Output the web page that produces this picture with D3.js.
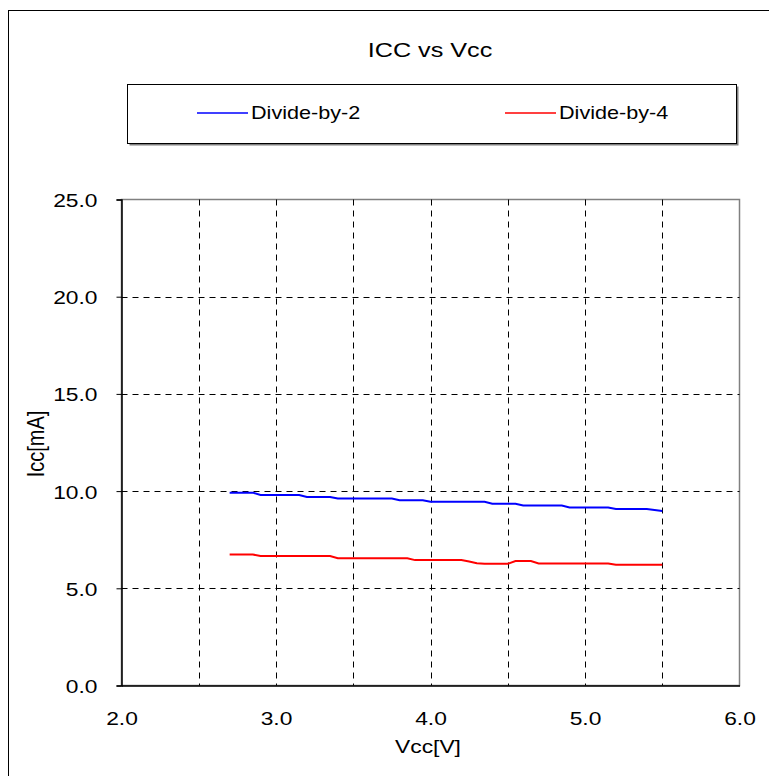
<!DOCTYPE html>
<html>
<head>
<meta charset="utf-8">
<script src="https://cdn.jsdelivr.net/npm/d3@7"></script>
<style>
  html, body { margin: 0; padding: 0; background: #fff; }
  svg { display: block; font-family: "Liberation Sans", Arial, sans-serif; }
</style>
</head>
<body>
<svg id="chart" width="769" height="776"></svg>
<script>
// ---- data ----
const vcc = [2.70, 2.75, 2.80, 2.85, 2.90, 2.95, 3.00, 3.05, 3.10, 3.15,
             3.20, 3.25, 3.30, 3.35, 3.40, 3.45, 3.50, 3.55, 3.60, 3.65,
             3.70, 3.75, 3.80, 3.85, 3.90, 3.95, 4.00, 4.05, 4.10, 4.15,
             4.20, 4.25, 4.30, 4.35, 4.40, 4.45, 4.50, 4.55, 4.60, 4.65,
             4.70, 4.75, 4.80, 4.85, 4.90, 4.95, 5.00, 5.05, 5.10, 5.15,
             5.20, 5.25, 5.30, 5.35, 5.40, 5.45, 5.50];
const divideBy2 = [9.92, 9.92, 9.92, 9.92, 9.80, 9.80, 9.80, 9.80, 9.80, 9.80,
                   9.70, 9.70, 9.70, 9.70, 9.62, 9.62, 9.62, 9.62, 9.62, 9.62,
                   9.62, 9.62, 9.53, 9.53, 9.53, 9.53, 9.45, 9.45, 9.45, 9.45,
                   9.45, 9.45, 9.45, 9.45, 9.35, 9.35, 9.35, 9.35, 9.26, 9.26,
                   9.26, 9.26, 9.26, 9.26, 9.16, 9.16, 9.16, 9.16, 9.16, 9.16,
                   9.08, 9.08, 9.08, 9.08, 9.08, 9.03, 8.98];
const divideBy4 = [6.74, 6.74, 6.74, 6.74, 6.66, 6.66, 6.66, 6.66, 6.66, 6.66,
                   6.66, 6.66, 6.66, 6.66, 6.55, 6.55, 6.55, 6.55, 6.55, 6.55,
                   6.55, 6.55, 6.55, 6.55, 6.45, 6.45, 6.45, 6.45, 6.45, 6.45,
                   6.45, 6.38, 6.29, 6.26, 6.26, 6.26, 6.26, 6.40, 6.40, 6.40,
                   6.28, 6.28, 6.28, 6.28, 6.28, 6.28, 6.28, 6.28, 6.28, 6.28,
                   6.21, 6.21, 6.21, 6.21, 6.21, 6.21, 6.21];
const seriesNames = ["Divide-by-2", "Divide-by-4"];
const seriesColors = ["#0000ff", "#ff0000"];
const xTicks = [2.0, 3.0, 4.0, 5.0, 6.0];
const xGrid = [2.5, 3.0, 3.5, 4.0, 4.5, 5.0, 5.5];
const yTicks = [0, 5, 10, 15, 20, 25];
const titleText = "ICC vs Vcc";
const xTitle = "Vcc[V]";
const yTitle = "Icc[mA]";

// ---- layout ----
const SX = 1.2; // horizontal stretch of the reference's lettering
const svg = d3.select("#chart");
const plot = { left: 121.5, right: 739.5, top: 199.5, bottom: 685.5 };

const x = d3.scaleLinear().domain([2, 6]).range([plot.left, plot.right]);
const y = d3.scaleLinear().domain([0, 25]).range([plot.bottom, plot.top]);

function stretchedText(g, px, py, size, anchor, txt) {
  return g.append("text")
    .attr("transform", `translate(${px},${py}) scale(${SX},1)`)
    .attr("text-anchor", anchor)
    .attr("font-size", size)
    .attr("fill", "#000")
    .text(txt);
}

// outer frame (only left & top visible in window)
svg.append("rect")
  .attr("x", 8.5).attr("y", 10.5)
  .attr("width", 800).attr("height", 800)
  .attr("fill", "#fff").attr("stroke", "#000").attr("stroke-width", 1);

// title
stretchedText(svg, 430, 57, 21, "middle", titleText);

// legend box with shadow
svg.append("rect")
  .attr("x", 129.5).attr("y", 86.5).attr("width", 609).attr("height", 59)
  .attr("fill", "#7f7f7f");
svg.append("rect")
  .attr("x", 127.5).attr("y", 84.5).attr("width", 609).attr("height", 59)
  .attr("fill", "#fff").attr("stroke", "#000").attr("stroke-width", 1);

const legendX = [197, 505];
seriesNames.forEach((name, i) => {
  svg.append("line")
    .attr("x1", legendX[i]).attr("x2", legendX[i] + 51)
    .attr("y1", 113).attr("y2", 113)
    .attr("stroke", seriesColors[i]).attr("stroke-width", 1.5);
  stretchedText(svg, legendX[i] + 54, 119, 18, "start", name);
});

// plot area border (top/right gray)
svg.append("rect")
  .attr("x", plot.left).attr("y", plot.top)
  .attr("width", plot.right - plot.left).attr("height", plot.bottom - plot.top)
  .attr("fill", "#fff").attr("stroke", "#808080").attr("stroke-width", 1.5);

// gridlines
const grid = svg.append("g").attr("stroke", "#000").attr("stroke-width", 1)
  .attr("stroke-dasharray", "6,5");
grid.selectAll("line.v").data(xGrid).enter().append("line")
  .attr("x1", d => Math.round(x(d)) + 0.5).attr("x2", d => Math.round(x(d)) + 0.5)
  .attr("y1", plot.top).attr("y2", plot.bottom);
grid.selectAll("line.h").data(yTicks.filter(d => d > 0 && d < 25)).enter().append("line")
  .attr("y1", d => Math.round(y(d)) + 0.5).attr("y2", d => Math.round(y(d)) + 0.5)
  .attr("x1", plot.left).attr("x2", plot.right);

// axes
const xAxis = d3.axisBottom(x).tickValues(xTicks).tickSize(0).tickPadding(0)
  .tickFormat(d3.format(".1f"));
const gx = svg.append("g").attr("transform", `translate(0,${plot.bottom})`).call(xAxis);
gx.select(".domain").attr("stroke", "#000").attr("stroke-width", 1.5);
gx.selectAll(".tick text")
  .attr("y", null).attr("dy", null)
  .attr("transform", `translate(0,39) scale(${SX},1)`)
  .attr("font-size", 19).attr("fill", "#000")
  .attr("font-family", "Liberation Sans, Arial, sans-serif");

const yAxis = d3.axisLeft(y).tickValues(yTicks).tickSize(5).tickPadding(0)
  .tickFormat(d3.format(".1f"));
const gy = svg.append("g").attr("transform", `translate(${plot.left},0)`).call(yAxis);
gy.select(".domain").attr("stroke", "#000").attr("stroke-width", 1.5);
gy.selectAll(".tick line").attr("stroke", "#000");
gy.selectAll(".tick text")
  .attr("x", null).attr("dy", null)
  .attr("transform", `translate(-24,7) scale(${SX},1)`)
  .attr("font-size", 19).attr("fill", "#000")
  .attr("font-family", "Liberation Sans, Arial, sans-serif");

// axis titles
stretchedText(svg, 428, 753, 19, "middle", xTitle);
svg.append("text")
  .attr("transform", `translate(44,444) rotate(-90) scale(1,${SX})`)
  .attr("text-anchor", "middle")
  .attr("font-size", 20).attr("fill", "#000")
  .text(yTitle);

// series lines
const line = d3.line().x((d, i) => x(vcc[i])).y(d => y(d));
[divideBy2, divideBy4].forEach((vals, i) => {
  svg.append("path")
    .datum(vals)
    .attr("d", line)
    .attr("fill", "none")
    .attr("stroke", seriesColors[i])
    .attr("stroke-width", 2);
});
</script>
</body>
</html>
